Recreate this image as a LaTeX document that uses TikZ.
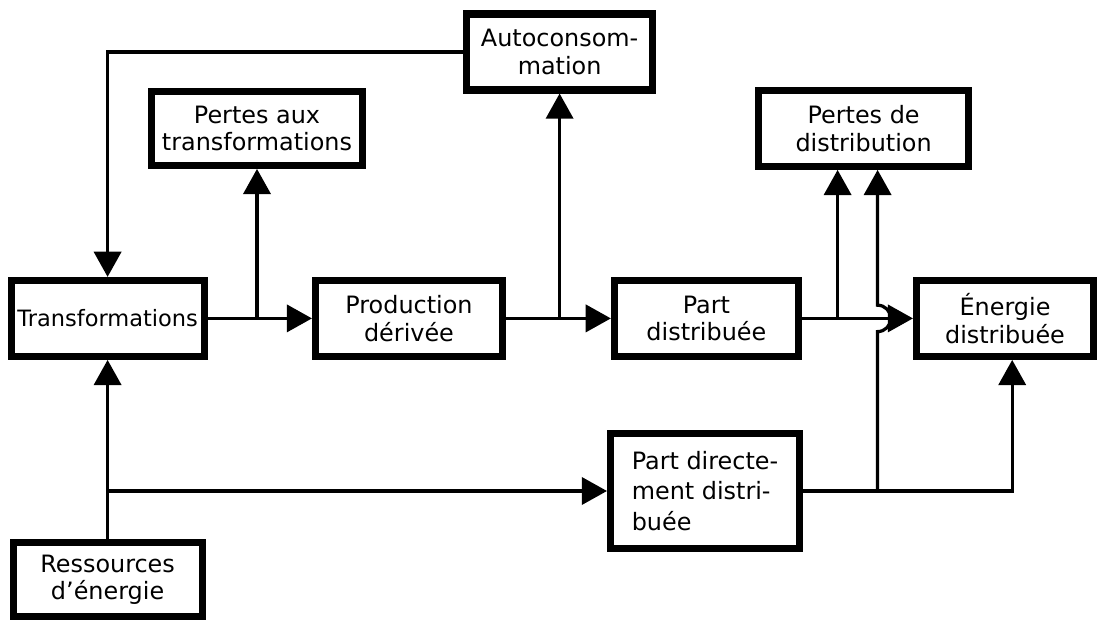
\documentclass[tikz,border=0pt]{standalone}
\usepackage{fontspec}
\setmainfont{DejaVu Sans}
\usetikzlibrary{arrows.meta}
\begin{document}
\begin{tikzpicture}[
    bloc/.style={draw,line width=5pt,minimum height=1.9cm,align=center,inner sep=2pt,
        font=\fontsize{17}{19.5}\selectfont},
    flux/.style={line width=2.3pt},
    >={Triangle[length=0.63cm,width=0.68cm]}]
    \useasboundingbox (0,0) rectangle (27.6,15.55);
    % les blocs
    \node[bloc,minimum width=4.65cm] (auto) at (13.99,14.25) {Autoconsom-\\mation};
    \node[bloc,minimum width=5.275cm,minimum height=1.85cm] (pertesT) at (6.425,12.34) {Pertes aux\\transformations};
    \node[bloc,minimum width=5.25cm] (pertesD) at (21.59,12.34) {Pertes de\\distribution};
    \node[bloc,minimum width=4.825cm,font=\fontsize{16}{19}\selectfont] (transf) at (2.69,7.59) {Transformations};
    \node[bloc,minimum width=4.675cm] (prod) at (10.225,7.59) {Production\\dérivée};
    \node[bloc,minimum width=4.6cm] (partd) at (17.66,7.59) {Part\\distribuée};
    \node[bloc,minimum width=4.425cm] (energie) at (25.125,7.59) {Énergie\\distribuée};
    \node[bloc,minimum width=4.725cm,minimum height=2.875cm,align=left,
        font=\fontsize{17}{21.5}\selectfont] (partdir) at (17.625,3.275)
        {Part directe-\\ment distri-\\buée};
    \node[bloc,minimum width=4.725cm,minimum height=1.85cm] (ress) at (2.69,1.06) {Ressources\\d'énergie};
    % les flux
    \draw[flux,->] (auto.west) -| (transf.north);
    \draw[flux,->] (transf.east) -- (prod.west);
    \draw[flux,->] (pertesT.south |- transf.east) -- (pertesT.south);
    \draw[flux,->] (prod.east) -- (partd.west);
    \draw[flux,->] (auto.south |- prod.east) -- (auto.south);
    \draw[flux,->] (partd.east) -- (energie.west);
    \draw[flux,->] ([xshift=-0.65cm]pertesD.south |- partd.east) -- ([xshift=-0.65cm]pertesD.south);
    \draw[flux,->] (ress.north) -- (transf.south);
    \draw[flux,->] (ress.north |- partdir.west) -- (partdir.west);
    \draw[flux,->] (partdir.east) -| ([xshift=0.18cm]energie.south);
    % saut par-dessus le flux principal
    \coordinate (saut) at ([xshift=0.35cm]pertesD.south |- partd.east);
    \draw[flux,->] (saut |- partdir.east) -- ([yshift=-0.33cm]saut)
        arc[start angle=-90,end angle=90,radius=0.33cm]
        -- ([xshift=0.35cm]pertesD.south);
\end{tikzpicture}
\end{document}
